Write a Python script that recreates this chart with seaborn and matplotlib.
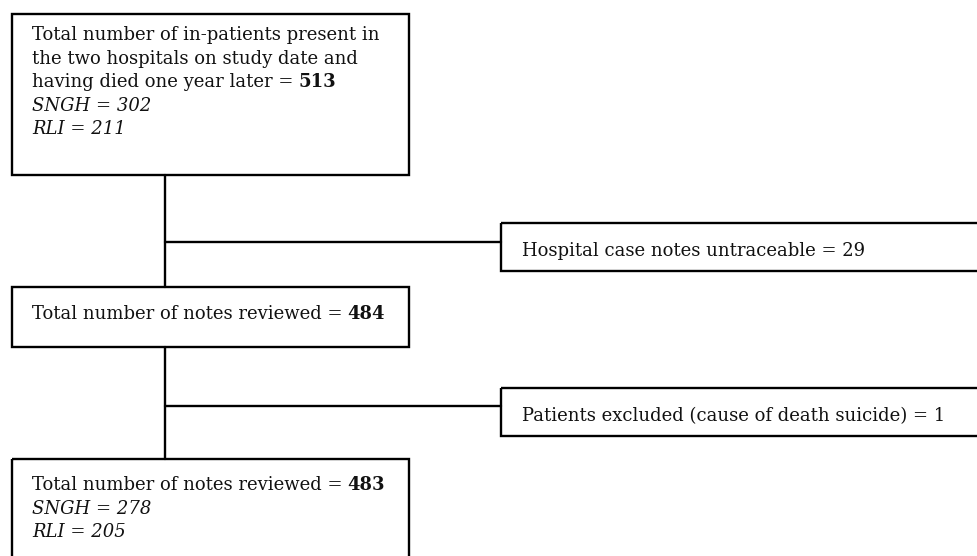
import matplotlib
matplotlib.use("Agg")
import matplotlib.pyplot as plt
import seaborn as sns
import pandas as pd
from matplotlib.patches import Rectangle

# ---- data ----
stage_text = [
    "Total number of in-patients present in\nthe two hospitals on study date and\nhaving died one year later =",
    "Total number of notes reviewed =",
    "Total number of notes reviewed =",
]
stage_totals = [513, 484, 483]
sngh_counts = [302, None, 278]
rli_counts = [211, None, 205]
excl_text = [
    "Hospital case notes untraceable = 29",
    "Patients excluded (cause of death suicide) = 1",
]

sns.set_theme(style="white")
plt.rcParams["font.family"] = ["DejaVu Serif"]

W, H = 978, 556
fig = plt.figure(figsize=(W / 100, H / 100), dpi=100)
ax = fig.add_axes([0, 0, 1, 1])

LW = 1.7
FS = 13.0
col = "black"
tcol = "#111111"

# layout (pixel coordinates)
main_boxes = [(12, 14, 409, 175), (12, 287, 409, 347), (12, 459, 409, 600)]
text_baselines = [40, 319, 490]
line_step = 23.6
text_x = 32
excl_boxes = [(501, 223, 1000, 271), (501, 388, 1000, 436)]
excl_baselines = [256, 421]
trunk_x = 165
branch_y = [242, 406]

# connectors drawn via seaborn lineplot
segs = []
for i, (a, b) in enumerate([(175, 287), (347, 459)]):
    segs.append(pd.DataFrame({"x": [trunk_x, trunk_x], "y": [a, b], "seg": f"v{i}"}))
for i, y in enumerate(branch_y):
    segs.append(pd.DataFrame({"x": [trunk_x, 501], "y": [y, y], "seg": f"h{i}"}))
df = pd.concat(segs, ignore_index=True)
sns.lineplot(data=df, x="x", y="y", units="seg", estimator=None, sort=False,
             color=col, linewidth=LW, ax=ax, legend=False)
ax.set_xlim(0, W)
ax.set_ylim(H, 0)
ax.axis("off")

for (x0, y0, x1, y1) in main_boxes + excl_boxes:
    ax.add_patch(Rectangle((x0, y0), x1 - x0, y1 - y0, fill=False,
                           edgecolor=col, linewidth=LW, clip_on=True))

fig.canvas.draw()
for i, txt in enumerate(stage_text):
    lines = txt.split("\n")
    base = text_baselines[i]
    for j, ln in enumerate(lines):
        y = base + j * line_step
        t = ax.text(text_x, y, ln, fontsize=FS, va="baseline", ha="left", color=tcol)
        if j == len(lines) - 1:
            ax.annotate(str(stage_totals[i]), xy=(1, 0), xycoords=t,
                        xytext=(5, 0), textcoords="offset pixels",
                        va="bottom", ha="left", fontsize=FS,
                        fontweight="bold", color=tcol)
    k = len(lines)
    if sngh_counts[i] is not None:
        ax.text(text_x, base + k * line_step, f"SNGH = {sngh_counts[i]}",
                fontsize=FS, style="italic", va="baseline", color=tcol)
        k += 1
    if rli_counts[i] is not None:
        ax.text(text_x, base + k * line_step, f"RLI = {rli_counts[i]}",
                fontsize=FS, style="italic", va="baseline", color=tcol)

for i, txt in enumerate(excl_text):
    ax.text(522, excl_baselines[i], txt, fontsize=FS, va="baseline",
            ha="left", color=tcol)

fig.savefig("out.png", dpi=100, facecolor="white")
